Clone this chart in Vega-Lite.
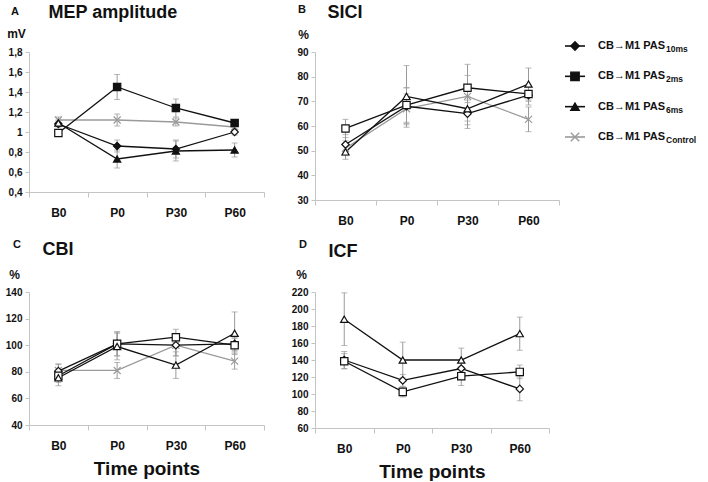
{
  "$schema": "https://vega.github.io/schema/vega-lite/v6.json",
  "background": "white",
  "autosize": {"type": "pad"},
  "padding": {"left": 5, "top": 3, "right": 0, "bottom": 0},
  "config": {
    "font": "Liberation Sans",
    "view": {"stroke": null},
    "legend": {"disable": true},
    "title": {"fontWeight": "bold", "color": "#111", "anchor": "start", "frame": "group", "fontSize": 11, "offset": 0},
    "axis": {"labelColor": "#111", "titleColor": "#111", "grid": false, "domainColor": "#c4c4c4", "tickColor": "#c4c4c4"},
    "axisX": {"labelFontSize": 12, "labelFontWeight": "bold", "labelAngle": 0, "labelPadding": 10, "tickSize": 5, "tickBand": "extent", "titleFontSize": 19, "titleFontWeight": "bold", "titlePadding": 8},
    "axisY": {"labelFontSize": 10, "labelFontWeight": "bold", "tickSize": 4, "labelPadding": 3, "titleAngle": 0, "titleFontSize": 12, "titleFontWeight": "bold", "titleAlign": "center", "titleBaseline": "alphabetic"}
  },
  "datasets": {
    "mep": [
      {"series": "Control", "time": "B0", "mean": 1.12, "err": 0.03},
      {"series": "Control", "time": "P0", "mean": 1.12, "err": 0.06},
      {"series": "Control", "time": "P30", "mean": 1.10, "err": 0.04},
      {"series": "Control", "time": "P60", "mean": 1.05, "err": 0.03},
      {"series": "10ms", "time": "B0", "mean": 1.08, "err": 0.03},
      {"series": "10ms", "time": "P0", "mean": 0.86, "err": 0.06},
      {"series": "10ms", "time": "P30", "mean": 0.83, "err": 0.09},
      {"series": "10ms", "time": "P60", "mean": 1.00, "err": 0.03},
      {"series": "2ms", "time": "B0", "mean": 0.99, "err": 0.02},
      {"series": "2ms", "time": "P0", "mean": 1.45, "err": 0.125},
      {"series": "2ms", "time": "P30", "mean": 1.24, "err": 0.09},
      {"series": "2ms", "time": "P60", "mean": 1.09, "err": 0.03},
      {"series": "6ms", "time": "B0", "mean": 1.09, "err": 0.03},
      {"series": "6ms", "time": "P0", "mean": 0.73, "err": 0.09},
      {"series": "6ms", "time": "P30", "mean": 0.81, "err": 0.10},
      {"series": "6ms", "time": "P60", "mean": 0.82, "err": 0.07}
    ],
    "sici": [
      {"series": "Control", "time": "B0", "mean": 51, "err": 3},
      {"series": "Control", "time": "P0", "mean": 67, "err": 6},
      {"series": "Control", "time": "P30", "mean": 72, "err": 13},
      {"series": "Control", "time": "P60", "mean": 62.7, "err": 5},
      {"series": "10ms", "time": "B0", "mean": 52.5, "err": 4},
      {"series": "10ms", "time": "P0", "mean": 68, "err": 7.5},
      {"series": "10ms", "time": "P30", "mean": 65, "err": 4.5},
      {"series": "10ms", "time": "P60", "mean": 72.5, "err": 4},
      {"series": "2ms", "time": "B0", "mean": 59, "err": 3.7},
      {"series": "2ms", "time": "P0", "mean": 68.5, "err": 7},
      {"series": "2ms", "time": "P30", "mean": 75.5, "err": 5},
      {"series": "2ms", "time": "P60", "mean": 73, "err": 3},
      {"series": "6ms", "time": "B0", "mean": 49.5, "err": 3},
      {"series": "6ms", "time": "P0", "mean": 72, "err": 12.5},
      {"series": "6ms", "time": "P30", "mean": 67, "err": 5},
      {"series": "6ms", "time": "P60", "mean": 77, "err": 6.5}
    ],
    "cbi": [
      {"series": "Control", "time": "B0", "mean": 81, "err": 5},
      {"series": "Control", "time": "P0", "mean": 81, "err": 6},
      {"series": "Control", "time": "P30", "mean": 100, "err": 8},
      {"series": "Control", "time": "P60", "mean": 88, "err": 6},
      {"series": "10ms", "time": "B0", "mean": 80.5, "err": 5},
      {"series": "10ms", "time": "P0", "mean": 101, "err": 9},
      {"series": "10ms", "time": "P30", "mean": 100, "err": 8},
      {"series": "10ms", "time": "P60", "mean": 101, "err": 5},
      {"series": "2ms", "time": "B0", "mean": 77, "err": 5},
      {"series": "2ms", "time": "P0", "mean": 101, "err": 9},
      {"series": "2ms", "time": "P30", "mean": 106, "err": 6},
      {"series": "2ms", "time": "P60", "mean": 100, "err": 5},
      {"series": "6ms", "time": "B0", "mean": 75.5, "err": 6},
      {"series": "6ms", "time": "P0", "mean": 99, "err": 10},
      {"series": "6ms", "time": "P30", "mean": 85, "err": 10},
      {"series": "6ms", "time": "P60", "mean": 109, "err": 16}
    ],
    "icf": [
      {"series": "10ms", "time": "B0", "mean": 140, "err": 10},
      {"series": "10ms", "time": "P0", "mean": 116, "err": 7},
      {"series": "10ms", "time": "P30", "mean": 130, "err": 9},
      {"series": "10ms", "time": "P60", "mean": 106, "err": 14},
      {"series": "2ms", "time": "B0", "mean": 138.5, "err": 9},
      {"series": "2ms", "time": "P0", "mean": 102.5, "err": 6},
      {"series": "2ms", "time": "P30", "mean": 121, "err": 11},
      {"series": "2ms", "time": "P60", "mean": 126, "err": 8},
      {"series": "6ms", "time": "B0", "mean": 188, "err": 31},
      {"series": "6ms", "time": "P0", "mean": 140, "err": 21},
      {"series": "6ms", "time": "P30", "mean": 140, "err": 14},
      {"series": "6ms", "time": "P60", "mean": 171, "err": 19.5}
    ],
    "legend": [
      {"series": "10ms", "label": "CB→M1 PAS", "sub": "10ms"},
      {"series": "2ms", "label": "CB→M1 PAS", "sub": "2ms"},
      {"series": "6ms", "label": "CB→M1 PAS", "sub": "6ms"},
      {"series": "Control", "label": "CB→M1 PAS", "sub": "Control"}
    ]
  },
  "bounds": "flush",
  "columns": 3,
  "spacing": {"row": 92, "column": 51},
  "concat": [
    {
      "width": 235, "height": 140,
      "title": {"text": "A", "dx": -18, "dy": 18},
      "data": {"name": "mep"},
      "encoding": {
        "y": {"field": "mean", "type": "quantitative", "scale": {"domain": [0.4, 1.8], "nice": false, "zero": false}, "axis": {"title": "mV", "titleX": -13, "titleY": -15, "values": [0.4, 0.6, 0.8, 1, 1.2, 1.4, 1.6, 1.8], "labelExpr": "replace(format(datum.value, '.1~f'), '.', ',')"}}
      },
      "layer": [
        {"mark": {"type": "errorbar", "color": "#9a9a9a", "thickness": 1, "ticks": {"size": 6, "color": "#9a9a9a"}}, "encoding": {
          "x": {"field": "time", "type": "nominal", "sort": ["B0", "P0", "P30", "P60"], "scale": {"type": "band", "paddingInner": 0, "paddingOuter": 0}, "axis": null},
          "yError": {"field": "err"}}},
        {"mark": {"type": "line", "strokeWidth": 1.3}, "encoding": {
          "x": {"field": "time", "type": "nominal", "sort": ["B0", "P0", "P30", "P60"], "scale": {"type": "band", "paddingInner": 0, "paddingOuter": 0}, "axis": {"orient": "top", "labels": false, "ticks": false, "domain": false, "title": "MEP amplitude", "titleFontSize": 18, "titleAlign": "left", "titleAnchor": "start", "titleBaseline": "alphabetic", "titleX": 19, "titleY": -35}},
          "color": {"field": "series", "type": "nominal", "scale": {"domain": ["10ms", "2ms", "6ms", "Control"], "range": ["#111", "#111", "#111", "#9a9a9a"]}}}},
        {"mark": {"type": "point", "filled": true, "opacity": 1, "strokeWidth": 1.2}, "encoding": {
          "x": {"field": "time", "type": "nominal", "sort": ["B0", "P0", "P30", "P60"], "scale": {"type": "band", "paddingInner": 0, "paddingOuter": 0}, "axis": {"title": null}},
          "shape": {"field": "series", "type": "nominal", "scale": {"domain": ["10ms", "2ms", "6ms", "Control"], "range": ["diamond", "square", "triangle-up", "M-1,-1L1,1M-1,1L1,-1"]}},
          "size": {"field": "series", "type": "nominal", "scale": {"domain": ["10ms", "2ms", "6ms", "Control"], "range": [55, 50, 60, 60]}},
          "stroke": {"field": "series", "type": "nominal", "scale": {"domain": ["10ms", "2ms", "6ms", "Control"], "range": ["#111", "#111", "#111", "#9a9a9a"]}},
          "fill": {"condition": {"test": "datum.time === 'B0' || (datum.series === '10ms' && datum.time === 'P60')", "value": "white"}, "field": "series", "type": "nominal", "scale": {"domain": ["10ms", "2ms", "6ms", "Control"], "range": ["#111", "#111", "#111", "#9a9a9a"]}}
        }}
      ],
      "resolve": {"axis": {"x": "independent"}}
    },
    {
      "width": 244, "height": 148,
      "title": {"text": "B", "dx": -17, "dy": 16},
      "data": {"name": "sici"},
      "encoding": {
        "y": {"field": "mean", "type": "quantitative", "scale": {"domain": [30, 90], "nice": false, "zero": false}, "axis": {"title": "%", "titleX": -12, "titleY": -14, "values": [30, 40, 50, 60, 70, 80, 90]}}
      },
      "layer": [
        {"mark": {"type": "errorbar", "color": "#9a9a9a", "thickness": 1, "ticks": {"size": 6, "color": "#9a9a9a"}}, "encoding": {
          "x": {"field": "time", "type": "nominal", "sort": ["B0", "P0", "P30", "P60"], "scale": {"type": "band", "paddingInner": 0, "paddingOuter": 0}, "axis": null},
          "yError": {"field": "err"}}},
        {"mark": {"type": "line", "strokeWidth": 1.3}, "encoding": {
          "x": {"field": "time", "type": "nominal", "sort": ["B0", "P0", "P30", "P60"], "scale": {"type": "band", "paddingInner": 0, "paddingOuter": 0}, "axis": {"orient": "top", "labels": false, "ticks": false, "domain": false, "title": "SICI", "titleFontSize": 18, "titleAlign": "left", "titleAnchor": "start", "titleBaseline": "alphabetic", "titleX": 12, "titleY": -35}},
          "color": {"field": "series", "type": "nominal"}}},
        {"mark": {"type": "point", "filled": true, "opacity": 1, "strokeWidth": 1.2}, "encoding": {
          "x": {"field": "time", "type": "nominal", "sort": ["B0", "P0", "P30", "P60"], "scale": {"type": "band", "paddingInner": 0, "paddingOuter": 0}, "axis": {"title": null}},
          "shape": {"field": "series", "type": "nominal"},
          "size": {"field": "series", "type": "nominal"},
          "stroke": {"field": "series", "type": "nominal"},
          "fill": {"value": "white"}
        }}
      ],
      "resolve": {"axis": {"x": "independent"}}
    },
    {
      "width": 93, "height": 94,
      "data": {"name": "legend"},
      "encoding": {
        "y": {"field": "series", "type": "nominal", "sort": ["10ms", "2ms", "6ms", "Control"], "scale": {"type": "point", "padding": 0, "range": [-6, 85]}, "axis": null}
      },
      "layer": [
        {"mark": {"type": "rule", "strokeWidth": 1.6}, "encoding": {"x": {"datum": -2.25, "type": "quantitative", "scale": {"domain": [0, 4.65], "nice": false, "zero": false}, "axis": null}, "x2": {"datum": -1.25}, "color": {"field": "series", "type": "nominal"}}},
        {"mark": {"type": "point", "filled": true, "opacity": 1, "strokeWidth": 1.4}, "encoding": {
          "x": {"datum": -1.75, "type": "quantitative"},
          "shape": {"field": "series", "type": "nominal"},
          "size": {"value": 70},
          "stroke": {"field": "series", "type": "nominal"},
          "fill": {"field": "series", "type": "nominal"}
        }},
        {"mark": {"type": "text", "align": "left", "baseline": "middle", "fontSize": 11, "fontWeight": "bold", "color": "#111"}, "encoding": {"x": {"datum": -0.6, "type": "quantitative"}, "text": {"field": "label"}}},
        {"mark": {"type": "text", "align": "left", "baseline": "middle", "fontSize": 8.5, "fontWeight": "bold", "color": "#111", "dy": 3}, "encoding": {"x": {"datum": 2.8, "type": "quantitative"}, "text": {"field": "sub"}}}
      ]
    },
    {
      "width": 235, "height": 133,
      "title": {"text": "C", "dx": -16, "dy": 14},
      "data": {"name": "cbi"},
      "encoding": {
        "y": {"field": "mean", "type": "quantitative", "scale": {"domain": [40, 140], "nice": false, "zero": false}, "axis": {"title": "%", "titleX": -15, "titleY": -14, "values": [40, 60, 80, 100, 120, 140]}}
      },
      "layer": [
        {"mark": {"type": "errorbar", "color": "#9a9a9a", "thickness": 1, "ticks": {"size": 6, "color": "#9a9a9a"}}, "encoding": {
          "x": {"field": "time", "type": "nominal", "sort": ["B0", "P0", "P30", "P60"], "scale": {"type": "band", "paddingInner": 0, "paddingOuter": 0}, "axis": null},
          "yError": {"field": "err"}}},
        {"mark": {"type": "line", "strokeWidth": 1.3}, "encoding": {
          "x": {"field": "time", "type": "nominal", "sort": ["B0", "P0", "P30", "P60"], "scale": {"type": "band", "paddingInner": 0, "paddingOuter": 0}, "axis": {"orient": "top", "labels": false, "ticks": false, "domain": false, "title": "CBI", "titleFontSize": 18, "titleAlign": "left", "titleAnchor": "start", "titleBaseline": "alphabetic", "titleX": 13, "titleY": -38}},
          "color": {"field": "series", "type": "nominal"}}},
        {"mark": {"type": "point", "filled": true, "opacity": 1, "strokeWidth": 1.2}, "encoding": {
          "x": {"field": "time", "type": "nominal", "sort": ["B0", "P0", "P30", "P60"], "scale": {"type": "band", "paddingInner": 0, "paddingOuter": 0}, "axis": {"title": "Time points"}},
          "shape": {"field": "series", "type": "nominal"},
          "size": {"field": "series", "type": "nominal"},
          "stroke": {"field": "series", "type": "nominal"},
          "fill": {"value": "white"}
        }}
      ],
      "resolve": {"axis": {"x": "independent"}}
    },
    {
      "width": 234, "height": 136,
      "title": {"text": "D", "dx": -16, "dy": 12},
      "data": {"name": "icf"},
      "encoding": {
        "y": {"field": "mean", "type": "quantitative", "scale": {"domain": [60, 220], "nice": false, "zero": false}, "axis": {"title": "%", "titleX": -14, "titleY": -14, "values": [60, 80, 100, 120, 140, 160, 180, 200, 220]}}
      },
      "layer": [
        {"mark": {"type": "errorbar", "color": "#9a9a9a", "thickness": 1, "ticks": {"size": 6, "color": "#9a9a9a"}}, "encoding": {
          "x": {"field": "time", "type": "nominal", "sort": ["B0", "P0", "P30", "P60"], "scale": {"type": "band", "paddingInner": 0, "paddingOuter": 0}, "axis": null},
          "yError": {"field": "err"}}},
        {"mark": {"type": "line", "strokeWidth": 1.3}, "encoding": {
          "x": {"field": "time", "type": "nominal", "sort": ["B0", "P0", "P30", "P60"], "scale": {"type": "band", "paddingInner": 0, "paddingOuter": 0}, "axis": {"orient": "top", "labels": false, "ticks": false, "domain": false, "title": "ICF", "titleFontSize": 18, "titleAlign": "left", "titleAnchor": "start", "titleBaseline": "alphabetic", "titleX": 13, "titleY": -36}},
          "color": {"field": "series", "type": "nominal"}}},
        {"mark": {"type": "point", "filled": true, "opacity": 1, "strokeWidth": 1.2}, "encoding": {
          "x": {"field": "time", "type": "nominal", "sort": ["B0", "P0", "P30", "P60"], "scale": {"type": "band", "paddingInner": 0, "paddingOuter": 0}, "axis": {"title": "Time points"}},
          "shape": {"field": "series", "type": "nominal"},
          "size": {"field": "series", "type": "nominal"},
          "stroke": {"field": "series", "type": "nominal"},
          "fill": {"value": "white"}
        }}
      ],
      "resolve": {"axis": {"x": "independent"}}
    }
  ]
}
